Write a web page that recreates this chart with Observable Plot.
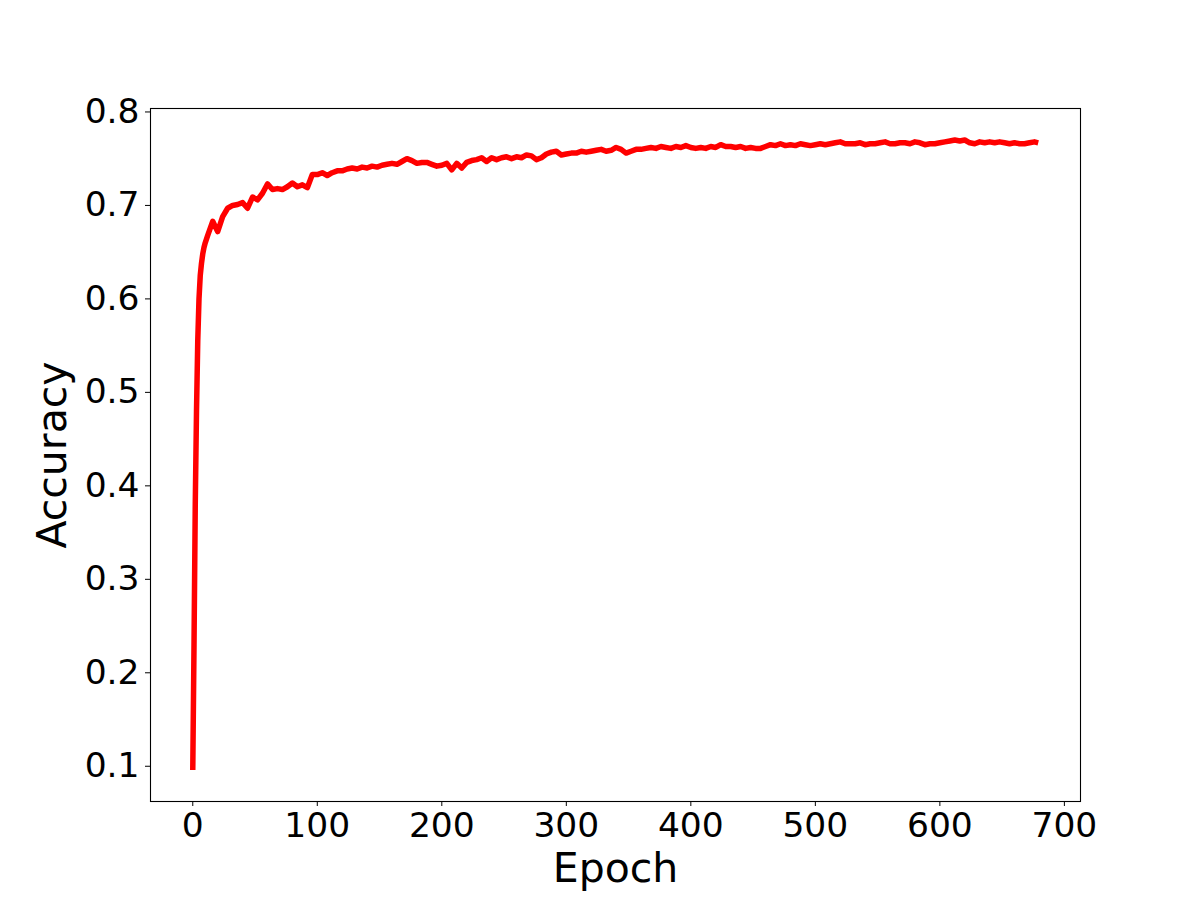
<!DOCTYPE html>
<html>
<head>
<meta charset="utf-8">
<script src="https://cdn.jsdelivr.net/npm/d3@7"></script>
<script src="https://cdn.jsdelivr.net/npm/@observablehq/plot@0.6"></script>
<style>
  html, body { margin: 0; padding: 0; background: #fff; }
  g[aria-label="x-axis label"] text, g[aria-label="y-axis label"] text { font-size: 41px; }
</style>
</head>
<body>
<div id="chart"></div>
<script>
// Accuracy for epochs 0..11 (one per epoch)
const earlyEpochs = d3.range(0, 12);
const earlyAcc = [0.096, 0.230, 0.380, 0.480, 0.555, 0.600, 0.625, 0.638, 0.648, 0.655, 0.660, 0.664];
// Accuracy read every 4 epochs, epochs 12..676
const laterEpochs = d3.range(12, 680, 4);
const laterAcc = [
  0.668,0.683,0.672,0.688,0.697,0.700,0.701,0.703,0.697,0.709,
  0.706,0.713,0.723,0.717,0.718,0.717,0.720,0.724,0.720,0.722,
  0.719,0.733,0.733,0.735,0.732,0.735,0.737,0.737,0.739,0.740,
  0.739,0.741,0.740,0.742,0.741,0.743,0.744,0.745,0.744,0.747,
  0.750,0.748,0.745,0.746,0.746,0.744,0.742,0.743,0.745,0.738,
  0.745,0.740,0.746,0.748,0.749,0.751,0.747,0.751,0.749,0.751,
  0.752,0.750,0.752,0.751,0.754,0.753,0.749,0.751,0.755,0.757,
  0.758,0.754,0.755,0.756,0.756,0.758,0.757,0.758,0.759,0.760,
  0.758,0.759,0.762,0.760,0.756,0.758,0.760,0.760,0.761,0.762,
  0.761,0.763,0.762,0.761,0.763,0.762,0.764,0.762,0.761,0.762,
  0.761,0.763,0.762,0.765,0.763,0.763,0.762,0.763,0.761,0.762,
  0.761,0.761,0.763,0.765,0.764,0.766,0.764,0.765,0.764,0.766,
  0.765,0.764,0.765,0.766,0.765,0.766,0.767,0.768,0.766,0.766,
  0.766,0.767,0.765,0.766,0.766,0.767,0.768,0.766,0.766,0.767,
  0.767,0.766,0.768,0.767,0.765,0.766,0.766,0.767,0.768,0.769,
  0.770,0.769,0.770,0.767,0.766,0.768,0.767,0.768,0.767,0.768,
  0.767,0.766,0.767,0.766,0.766,0.767,0.768
];
const lastEpoch = [679];
const lastAcc = [0.767];

const xTicks = [0, 100, 200, 300, 400, 500, 600, 700];
const yTicks = [0.1, 0.2, 0.3, 0.4, 0.5, 0.6, 0.7, 0.8];

const epochs = [...earlyEpochs, ...laterEpochs, ...lastEpoch];
const accs = [...earlyAcc, ...laterAcc, ...lastAcc];
const data = epochs.map((e, i) => ({epoch: e, acc: accs[i]}));

const xMin = 0, xMax = 679;
const yMin = d3.min(accs), yMax = d3.max(accs);
const xPad = (xMax - xMin) * 0.05, yPad = (yMax - yMin) * 0.05;

const chart = Plot.plot({
  width: 1200,
  height: 900,
  marginLeft: 150,
  marginRight: 120,
  marginTop: 108,
  marginBottom: 99,
  style: {fontFamily: "'DejaVu Sans', sans-serif", fontSize: "34.5px", background: "#fff", color: "#000"},
  x: {domain: [xMin - xPad, xMax + xPad]},
  y: {domain: [yMin - yPad, yMax + yPad]},
  marks: [
    Plot.frame({stroke: "#000", strokeWidth: 1.1}),
    Plot.axisX({ticks: xTicks, tickSize: 5, tickPadding: 6, tickFormat: d3.format("d"),
      label: "Epoch", labelAnchor: "center", labelArrow: "none", labelOffset: 80}),
    Plot.axisY({ticks: yTicks, tickSize: 5, tickPadding: 6, tickFormat: d3.format(".1f"),
      label: "Accuracy", labelAnchor: "center", labelArrow: "none", labelOffset: 114}),
    Plot.line(data, {x: "epoch", y: "acc", stroke: "#ff0000", strokeWidth: 5.5, strokeLinejoin: "round", strokeLinecap: "butt"})
  ]
});
document.getElementById("chart").appendChild(chart);
</script>
</body>
</html>
